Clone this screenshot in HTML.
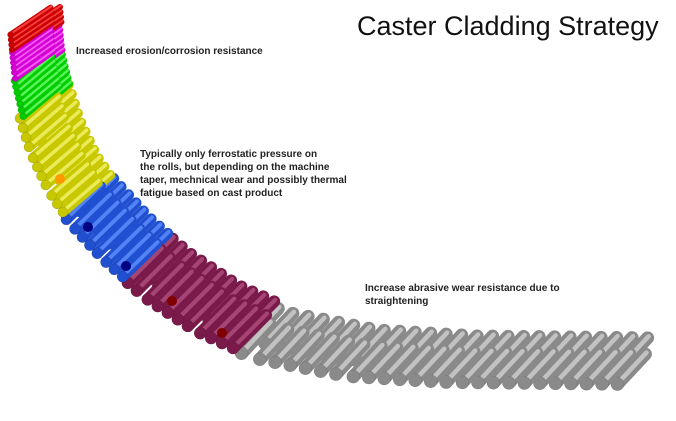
<!DOCTYPE html>
<html><head><meta charset="utf-8"><style>
html,body{margin:0;padding:0;background:#fff;width:676px;height:421px;overflow:hidden}
.t{position:absolute;font-family:"Liberation Sans",Arial,sans-serif;font-weight:bold;font-size:10px;color:#222;line-height:13px}
</style></head><body>
<svg id="s" width="676" height="421" style="position:absolute;left:0;top:0"></svg>
<div style="position:absolute;left:357px;top:11px;font-family:'Liberation Sans',sans-serif;font-size:27px;color:#111">Caster Cladding Strategy</div>
<div class="t" style="left:76px;top:45px">Increased erosion/corrosion resistance</div>
<div class="t" style="left:140px;top:148px">Typically only ferrostatic pressure on<br>the rolls, but depending on the machine<br>taper, mechnical wear and possibly thermal<br>fatigue based on cast product</div>
<div class="t" style="left:365px;top:282px">Increase abrasive wear resistance due to<br>straightening</div>
<script>
var s=document.getElementById('s'),NS='http://www.w3.org/2000/svg';
function el(n,a){var e=document.createElementNS(NS,n);for(var k in a)e.setAttribute(k,a[k]);s.appendChild(e);return e}
var P=[[20,34],[24,75],[33,112],[45,150],[62,186],[80,212],[115,250],[155,285],[205,318],[258,342],[350,360],[450,366],[634,368]];
var L=[0];for(var i=1;i<P.length;i++){L.push(L[i-1]+Math.hypot(P[i][0]-P[i-1][0],P[i][1]-P[i-1][1]))}
var TL=L[L.length-1];
function at(d){for(var i=1;i<P.length;i++){if(d<=L[i]||i==P.length-1){var t=(d-L[i-1])/(L[i]-L[i-1]);var dx=P[i][0]-P[i-1][0],dy=P[i][1]-P[i-1][1],l=Math.hypot(dx,dy);return [P[i-1][0]+dx*t,P[i-1][1]+dy*t,dx/l,dy/l]}}}
var zones=[[0,18,'#cc0000','#ff5050',6,5,[40,-27]],[18,45,'#d400d4','#ff70ff',6,5,[38,-27]],[45,82,'#00cc00','#70ff70',7,6,[36,-30]],[82,190,'#c8c800','#f4f470',10,10,[35,-30]],[190,275,'#2050d0','#6090ff',11,11,[34,-33]],[275,405,'#7a1a4a','#b0507e',12,12,[33,-33]],[405,TL+1,'#8a8a8a','#d0d0d0',13,15.5,[28,-30]]];
var rolls=[[],[]];
zones.forEach(function(z){for(var d=z[0];d<z[1];d+=z[5]){var p=at(Math.min(d,TL));var nx=-p[3],ny=p[2];if(ny<0){nx=-nx;ny=-ny}
rolls[0].push([p[0],p[1],z]);rolls[1].push([p[0]+nx*z[4]*1.25-2,p[1]+ny*z[4]*1.25,z]);}});
function draw(r){var z=r[2],x=r[0],y=r[1],v=z[6];
el('line',{x1:x,y1:y,x2:x+v[0],y2:y+v[1],stroke:z[2],'stroke-width':z[4],'stroke-linecap':'round'});
el('line',{x1:x+1,y1:y-1.5,x2:x+v[0]+1,y2:y+v[1]-1.5,stroke:z[3],'stroke-width':z[4]*0.35,'stroke-linecap':'round','opacity':0.8});
el('circle',{cx:x,cy:y,r:z[4]/2,fill:z[2],stroke:'rgba(0,0,0,0.15)','stroke-width':0.6});}
for(var i=rolls[0].length-1;i>=0;i--){draw(rolls[0][i])}
for(var i=rolls[1].length-1;i>=0;i--){draw(rolls[1][i])}
[[60,179,'#ff9900'],[88,227,'#000080'],[126,266,'#000080'],[172,301,'#800000'],[222,333,'#800000']].forEach(function(c){el('circle',{cx:c[0],cy:c[1],r:5,fill:c[2]})});
</script>
</body></html>
